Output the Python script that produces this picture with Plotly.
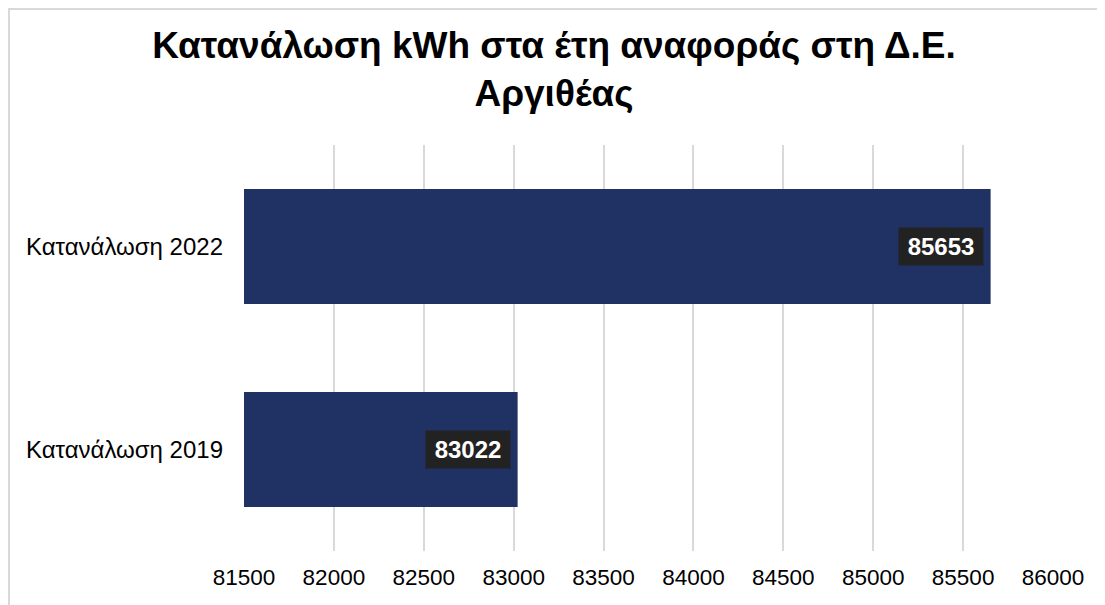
import plotly.graph_objects as go

categories = ["Κατανάλωση 2019", "Κατανάλωση 2022"]
values = [83022, 85653]
tick_vals = [81500, 82000, 82500, 83000, 83500, 84000, 84500, 85000, 85500, 86000]
tick_text = [str(v) for v in tick_vals]
title_text = "Κατανάλωση kWh στα έτη αναφοράς στη Δ.Ε.<br>Αργιθέας"

FONT = "Liberation Sans, Arial, sans-serif"
W, H = 1105, 605
# page body has an 8px margin; plot area on screen spans x 244..1053, y 145..551
OFF = 8
ml, mt = 244 - OFF, 145 - OFF
mr = W - (1053 - OFF)
mb = H - (551 - OFF)

fig = go.Figure()
fig.add_trace(go.Bar(
    y=categories, x=values, orientation="h",
    marker=dict(color="#203264", line=dict(width=0)),
    hoverinfo="skip",
))

for c, v in zip(categories, values):
    fig.add_annotation(
        x=v, y=c, xref="x", yref="y", text=f"<b>{v}</b>",
        showarrow=False, xanchor="right", xshift=-7,
        font=dict(family=FONT, size=24, color="white"),
        bgcolor="#222222", borderpad=0, width=84, height=37,
    )

pw = W - ml - mr
ph = H - mt - mb
fig.add_shape(type="rect", xref="paper", yref="paper",
              x0=(1 - ml) / pw, x1=(W + 20 - ml) / pw,
              y0=-(mb + 20) / ph, y1=(H - 1 - mb) / ph,
              line=dict(color="#d9d9d9", width=2), layer="below")

fig.update_layout(
    width=W, height=H,
    margin=dict(l=ml, r=mr, t=mt, b=mb),
    paper_bgcolor="white", plot_bgcolor="white",
    bargap=0.433,
    showlegend=False,
    title=dict(text=f"<b>{title_text}</b>", x=(554 - OFF) / W, xref="container", xanchor="center",
               yref="container", y=1 - (57.5 - OFF) / H, yanchor="middle",
               font=dict(family=FONT, size=37, color="black")),
    xaxis=dict(range=[81500, 86000], tickvals=tick_vals, ticktext=tick_text,
               showgrid=True, gridcolor="#d9d9d9", gridwidth=2,
               zeroline=False, showline=False, ticks="", automargin=False,
               tickfont=dict(family=FONT, size=22.5, color="black"),
               ticklabelstandoff=10),
    yaxis=dict(showgrid=False, zeroline=False, showline=False, ticks="",
               automargin=False,
               tickfont=dict(family=FONT, size=24, color="black"),
               ticklabelstandoff=20),
)

fig.write_html("out.html")
